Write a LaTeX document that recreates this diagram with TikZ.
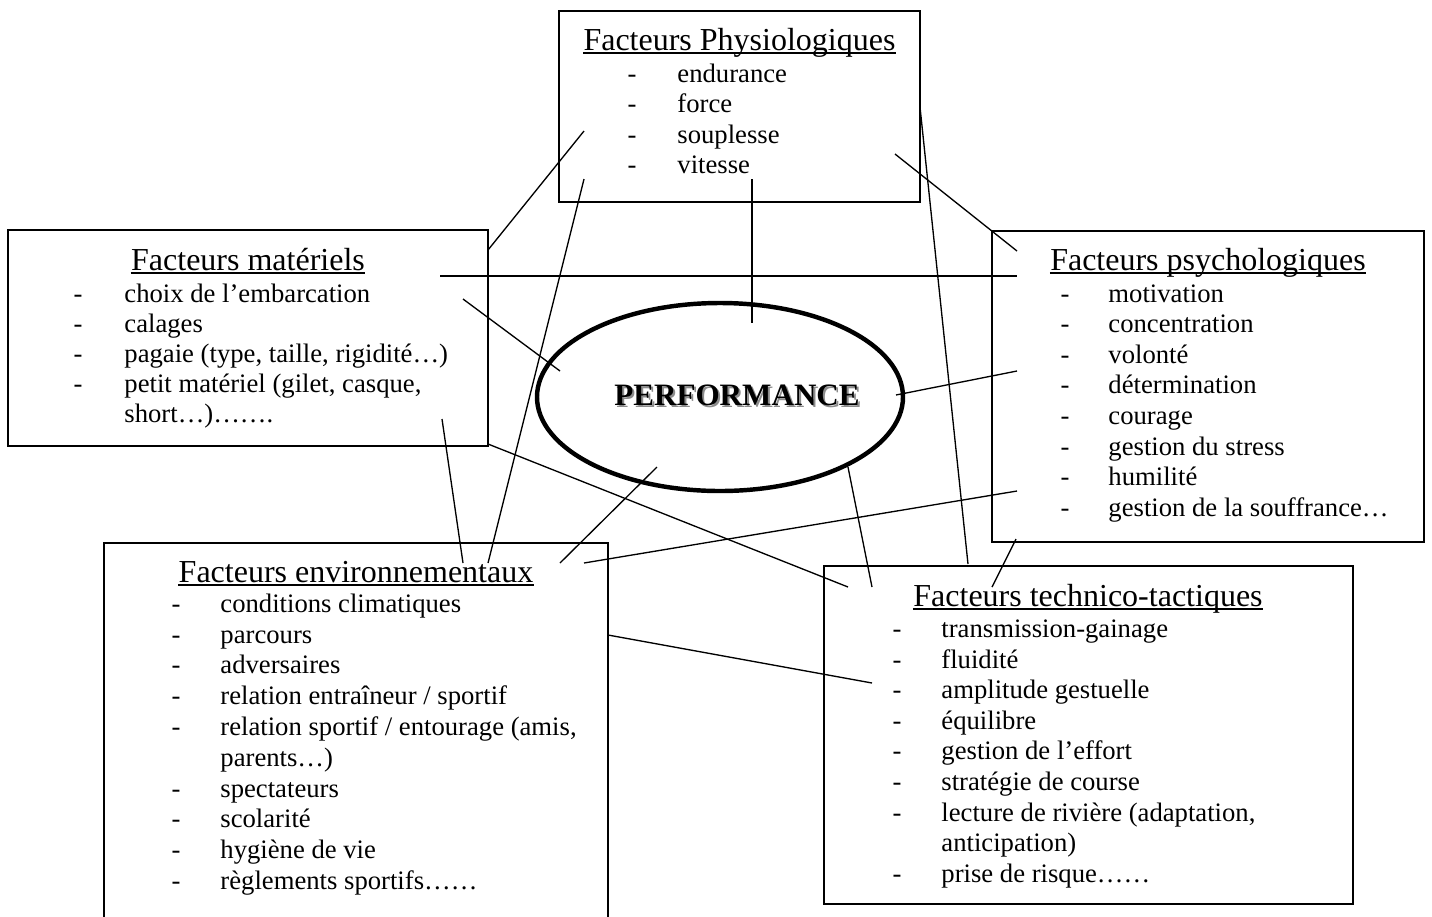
\documentclass[tikz,border=0pt]{standalone}
\usepackage{fontspec}
\setmainfont{Liberation Serif}
\usetikzlibrary{fit,shapes.geometric}
\begin{document}
\begin{tikzpicture}[x=0.45pt,y=-0.45pt,
  itm/.style={inner sep=0pt,font=\fontsize{12}{13.8}\selectfont},
  ttl/.style={inner sep=0pt,anchor=base,font=\fontsize{14.4}{16}\selectfont},
  boxr/.style={draw,line width=0.7pt,inner sep=0pt},
  uline/.style={line width=0.6pt},
  link/.style={line width=0.6pt}]
\useasboundingbox (0,0) rectangle (1432,916);
\clip (0,0) rectangle (1432,916);
% boxes
\node[boxr,fit={(559,11) (920,202)}] (phys) {};
\node[boxr,fit={(8,230) (488,446)}] (mat) {};
\node[boxr,fit={(992,231) (1424,542)}] (psy) {};
\node[boxr,fit={(104,543) (608,940)}] (env) {};
\node[boxr,fit={(824,566) (1353,904)}] (tech) {};
% ellipse
\node[ellipse,draw,line width=2pt,minimum width=164.7pt,minimum height=84.6pt,inner sep=0pt] (perf) at (720,397) {};
\node[inner sep=0pt,anchor=base,font=\fontsize{14}{16}\selectfont\bfseries,text=black!45] (perfs) at (739,407) {PERFORMANCE};
\node[inner sep=0pt,anchor=base,font=\fontsize{14}{16}\selectfont\bfseries] (perft) at (737,405) {PERFORMANCE};
% titles
\node[ttl] (tphys) at (739.5,50) {Facteurs Physiologiques};
\node[ttl] (tmat) at (248,270) {Facteurs matériels};
\node[ttl] (tpsy) at (1208,270) {Facteurs psychologiques};
\node[ttl] (tenv) at (356,582) {Facteurs environnementaux};
\node[ttl] (ttech) at (1088,606) {Facteurs technico-tactiques};
\foreach \t in {tphys,tmat,tpsy,tenv,ttech}
  \draw[uline] ([yshift=-1.3pt]\t.base west) -- ([yshift=-1.3pt]\t.base east);
% lists
\foreach \s/\y [count=\i] in {endurance/82,force/112,souplesse/143,vitesse/173}{
  \node[itm,anchor=base] (dphys\i) at (632,\y) {-};
  \node[itm,anchor=base west] (iphys\i) at (677,\y) {\s};}
\foreach \s/\y [count=\i] in {choix de l’embarcation/302,calages/332,{pagaie (type, taille, rigidité…)}/362,{petit matériel (gilet, casque,}/392}{
  \node[itm,anchor=base] (dmat\i) at (78,\y) {-};
  \node[itm,anchor=base west] (imat\i) at (124,\y) {\s};}
\node[itm,anchor=base west] (imat5) at (124,422) {short…)…….};
\foreach \s/\y [count=\i] in {motivation/302,concentration/332.6,volonté/363.2,détermination/393.8,courage/424.4,gestion du stress/455,humilité/485.6,gestion de la souffrance…/516.2}{
  \node[itm,anchor=base] (dpsy\i) at (1065,\y) {-};
  \node[itm,anchor=base west] (ipsy\i) at (1108,\y) {\s};}
\foreach \s/\y [count=\i] in {conditions climatiques/612,parcours/643,adversaires/673,{relation entraîneur / sportif}/704,{relation sportif / entourage (amis,}/735,spectateurs/797,scolarité/827,hygiène de vie/858,règlements sportifs……/889}{
  \node[itm,anchor=base] (denv\i) at (176,\y) {-};
  \node[itm,anchor=base west] (ienv\i) at (220,\y) {\s};}
\node[itm,anchor=base west] (ienvc) at (220,766) {parents…)};
\foreach \s/\y [count=\i] in {transmission-gainage/637,fluidité/668,amplitude gestuelle/698,équilibre/729,gestion de l’effort/759,stratégie de course/790,{lecture de rivière (adaptation,}/821,prise de risque……/882}{
  \node[itm,anchor=base] (dtech\i) at (897,\y) {-};
  \node[itm,anchor=base west] (itech\i) at (941,\y) {\s};}
\node[itm,anchor=base west] (itechc) at (941,851) {anticipation)};
% connector end points
\coordinate (a1) at (488,250);  \coordinate (b1) at (584,131);
\coordinate (a2) at (440,276);  \coordinate (b2) at (1017,276);
\coordinate (a3) at (463,299);  \coordinate (b3) at (560,371);
\coordinate (a4) at (752,179);  \coordinate (b4) at (752,323);
\coordinate (a5) at (895,154);  \coordinate (b5) at (1017,251);
\coordinate (a6) at (920,107);  \coordinate (b6) at (968,564);
\coordinate (a7) at (584,179);  \coordinate (b7) at (488,563);
\coordinate (a8) at (442,419);  \coordinate (b8) at (463,563);
\coordinate (a9) at (488,444);  \coordinate (b9) at (848,587);
\coordinate (a10) at (560,563); \coordinate (b10) at (657,467);
\coordinate (a11) at (584,563); \coordinate (b11) at (1017,491);
\coordinate (a12) at (848,467); \coordinate (b12) at (872,587);
\coordinate (a13) at (896,395); \coordinate (b13) at (1017,371);
\coordinate (a14) at (608,635); \coordinate (b14) at (872,683);
\coordinate (a15) at (1016,539);\coordinate (b15) at (992,587);
\foreach \i in {1,...,15} \draw[link] (a\i) -- (b\i);
\end{tikzpicture}
\end{document}
